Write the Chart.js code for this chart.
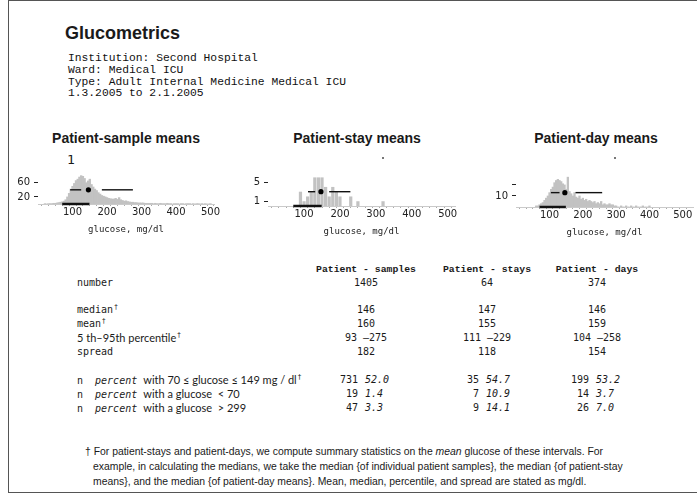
<!DOCTYPE html>
<html>
<head>
<meta charset="utf-8">
<script src="https://cdn.jsdelivr.net/npm/chart.js@4.4.0/dist/chart.umd.min.js"></script>
<style>
body { margin: 0; background: #fff; width: 697px; height: 495px; overflow: hidden; position: relative; }
.frame { position: absolute; left: 8px; top: 0; width: 700px; height: 491px; border: 1px solid #555; border-right: none; }
.t { position: absolute; white-space: nowrap; line-height: 12px; color: #1a1a1a; }
.head { font-family: "Liberation Sans", Arial, sans-serif; font-weight: bold; }
.mono { font-family: "Liberation Mono", monospace; font-size: 11.3px; color: #111; }
.lab { font-family: "DejaVu Sans Mono", monospace; font-size: 10px; color: #1a1a1a; }
.prop { font-family: Lato, sans-serif; font-size: 11px; }
.colh { font-family: "Liberation Mono", monospace; font-size: 9.8px; font-weight: bold; }
.num { font-family: "DejaVu Sans Mono", monospace; font-size: 10px; }
.it { font-style: italic; }
.foot { font-family: "Liberation Sans", Arial, sans-serif; font-size: 10.4px; line-height: 15px; }
.dag { font-family: "DejaVu Sans", sans-serif; font-size: 7px; }
.wrap { position: absolute; }
</style>
</head>
<body>
<div class="frame"></div>
<div id="page"></div>
<div class="wrap" style="left:0px;top:145px;width:225px;height:90px"><canvas id="c1"></canvas></div>
<div class="wrap" style="left:230px;top:147px;width:240px;height:90px"><canvas id="c2"></canvas></div>
<div class="wrap" style="left:470px;top:148px;width:227px;height:90px"><canvas id="c3"></canvas></div>
<script>
// header text
var reportTitle = "Glucometrics";
var infoLines = [
  "Institution: Second Hospital",
  "Ward: Medical ICU",
  "Type: Adult Internal Medicine Medical ICU",
  "1.3.2005 to 2.1.2005"
];
var panelTitles = ["Patient-sample means", "Patient-stay means", "Patient-day means"];
var axisTitle = "glucose, mg/dl";

// histogram of patient-sample means, 5 mg/dl bins starting at 20
var sampleBinStart = 20, sampleBinWidth = 5;
var sampleCounts = [1,0,1,1,1,2,2,3,4,5,
  6,8,12,20,30,42,
  50,58,66,70,76,80,
  78,72,60,65,70,55,
  48,42,38,32,28,24,
  22,20,18,16,15,14,
  14,16,13,18,12,10,
  8,9,7,6,5,5,
  4,4,3,3,3,3,2,2,2,2,
  2,1,2,1,1,2,1,1,1,2,1,1,0,1,1,1,0,1,1,0,1,1,1,0,1,0,1,1,0,1,0,1,0,0,1];

// histogram of patient-stay means, 10 mg/dl bins starting at 80
var stayBinStart = 80, stayBinWidth = 10;
var stayCounts = [0,3,1,2,3,6,6,6,4,2,4,3,2,0,0,2,0,1,0,0,0,0,0,0,1];

// histogram of patient-day means, 5 mg/dl bins starting at 60
var dayBinStart = 60, dayBinWidth = 5;
var dayCounts = [1,1,2,3,4,6,8,10,
  13,16,18,22,24,25,
  24,23,21,20,16,27,
  14,12,10,13,9,8,
  10,7,8,6,7,5,
  6,5,4,5,3,4,
  3,5,2,3,2,2,
  3,2,2,1,
  1,0,0,1,0,0,1,0,0,1,0,0,1,0,0,0,1,0,0,0,1];

// 5th, 25th, median, 75th, 95th percentile
var samplePct = [93, 125, 146, 185, 275];
var stayPct = [111, 131, 147, 170, 229];
var dayPct = [104, 130, 146, 178, 258];
var targetRange = [70, 149];

var xMinorTicks = [20,40,60,80,100,120,140,160,180,200,220,240,260,280,300,320,340,360,380,400,420,440,460,480,500];
var xTickLabels = [100, 200, 300, 400, 500];

var sampleYTicks = [20, 40, 60, 80], sampleYLabels = ["20", "", "60", ""];
var stayYTicks = [1, 5], stayYLabels = ["1", "5"];
var dayYTicks = [10, 20], dayYLabels = ["10", ""];

// table
var columnHeads = ["Patient - samples", "Patient - stays", "Patient - days"];
var rowLabels = ["number", "median", "mean", "5 th\u201395th percentile", "spread"];
var numbers = [1405, 64, 374];
var medians = [146, 147, 146];
var means = [160, 155, 159];
var pctRange = ["93 \u2013275", "111 \u2013229", "104 \u2013258"];
var spreads = [182, 118, 154];
var nInRange = [731, 35, 199], pInRange = ["52.0", "54.7", "53.2"];
var nLow = [19, 7, 14], pLow = ["1.4", "10.9", "3.7"];
var nHigh = [47, 9, 26], pHigh = ["3.3", "14.1", "7.0"];

var footLines = [
  "<span style='margin-left:-8px'>\u2020</span> For patient-stays and patient-days, we compute summary statistics on the <i>mean</i> glucose of these intervals. For",
  "example, in calculating the medians, we take the median {of individual patient samples}, the median {of patient-stay",
  "means}, and the median {of patient-day means}. Mean, median, percentile, and spread are stated as mg/dl."
];

var page = document.getElementById("page");
function put(text, x, y, cls, align) {
  var d = document.createElement("div");
  d.className = "t " + cls;
  d.innerHTML = text;
  d.style.top = (y - 6) + "px";
  if (align === "center") { d.style.left = x + "px"; d.style.transform = "translateX(-50%)"; }
  else if (align === "right") { d.style.right = (697 - x) + "px"; }
  else { d.style.left = x + "px"; }
  page.appendChild(d);
  return d;
}
// label followed by a raised dagger
function putDag(text, x, y, cls) {
  var d = put(text, x, y, cls, "left");
  put("\u2020", x + d.getBoundingClientRect().width + 1, y - 3, "dag", "left");
}

put(reportTitle, 65, 33, "head", "left").style.fontSize = "18px";
infoLines.forEach(function (s, i) { put(s, 68, 58 + i * 11.8, "mono", "left"); });
var titleX = [126, 357, 596];
panelTitles.forEach(function (s, i) { put(s, titleX[i], 138, "head", "center").style.fontSize = "14px"; });
put("1", 67, 160, "lab", "left").style.fontSize = "13px";

// table
var colX = [366, 487, 597];
var rowY = { head: 270, number: 283, median: 310, mean: 324, pct: 338, spread: 352, r1: 380, r2: 394, r3: 408 };
var labelX = 77;
put(rowLabels[0], labelX, rowY.number, "num", "left");
putDag(rowLabels[1], labelX, rowY.median, "num");
putDag(rowLabels[2], labelX, rowY.mean, "num");
putDag("<span class='prop'>" + rowLabels[3] + "</span>", labelX, rowY.pct, "num");
put(rowLabels[4], labelX, rowY.spread, "num", "left");
putDag("n&nbsp; <span class='it'>percent</span> <span class='prop'>with 70 \u2264 glucose \u2264 149 mg / dl</span>", labelX, rowY.r1, "num");
put("n&nbsp; <span class='it'>percent</span> <span class='prop'>with a glucose &nbsp;&lt; 70</span>", labelX, rowY.r2, "num", "left");
put("n&nbsp; <span class='it'>percent</span> <span class='prop'>with a glucose &nbsp;&gt; 299</span>", labelX, rowY.r3, "num", "left");

for (var c = 0; c < 3; c++) {
  put(columnHeads[c], colX[c], rowY.head, "colh", "center");
  put(String(numbers[c]), colX[c], rowY.number, "num", "center");
  put(String(medians[c]), colX[c], rowY.median, "num", "center");
  put(String(means[c]), colX[c], rowY.mean, "num", "center");
  put(pctRange[c], colX[c], rowY.pct, "num", "center");
  put(String(spreads[c]), colX[c], rowY.spread, "num", "center");
  [[nInRange, pInRange, rowY.r1], [nLow, pLow, rowY.r2], [nHigh, pHigh, rowY.r3]].forEach(function (r) {
    put(String(r[0][c]), colX[c] - 8, r[2], "num", "right");
    put(r[1][c], colX[c] - 1, r[2], "num it", "left");
  });
}

footLines.forEach(function (s, i) {
  var d = put(s, 93, 452 + i * 15, "foot", "left");
  d.style.top = (452 + i * 15 - 8) + "px";
});

// stray marks at top of the stay and day panels
[[382, 157], [614, 157]].forEach(function (p) {
  var d = document.createElement("div");
  d.style.cssText = "position:absolute;width:2px;height:2px;background:#777;left:" + p[0] + "px;top:" + p[1] + "px";
  page.appendChild(d);
});

function makePanel(id, binStart, binWidth, counts, yMax, yTicks, yLabels, pct, pctY, xMax, yWidth, padTop, padRight, barPct) {
  var bars = counts.map(function (c, i) { return { x: binStart + i * binWidth, y: c }; });
  var seg = { type: "line", borderColor: "#111", borderWidth: 1.4, pointRadius: 0, order: 1, clip: false };
  new Chart(document.getElementById(id), {
    type: "bar",
    data: {
      datasets: [
        Object.assign({ data: [{ x: pct[0], y: pctY }, { x: pct[1], y: pctY }] }, seg),
        Object.assign({ data: [{ x: pct[3], y: pctY }, { x: pct[4], y: pctY }] }, seg),
        { type: "scatter", data: [{ x: pct[2], y: pctY }], pointRadius: 2.6, backgroundColor: "#000", borderWidth: 0, order: 1 },
        { type: "line", data: [{ x: targetRange[0], y: 0 }, { x: targetRange[1], y: 0 }], borderColor: "#111", borderWidth: 2.5, pointRadius: 0, order: 0, clip: false },
        { type: "bar", data: bars, backgroundColor: "#c2c2c2", borderWidth: 0, barPercentage: barPct, categoryPercentage: 1, order: 5 }
      ]
    },
    options: {
      animation: false,
      responsive: true,
      maintainAspectRatio: false,
      layout: { padding: { top: padTop, right: padRight, left: 0, bottom: 0 } },
      plugins: { legend: { display: false }, tooltip: { enabled: false } },
      scales: {
        x: {
          type: "linear", min: 10, max: xMax,
          afterBuildTicks: function (s) { s.ticks = xMinorTicks.filter(function (v) { return v <= xMax; }).map(function (v) { return { value: v }; }); },
          afterFit: function (s) { s.height = 31; },
          ticks: {
            autoSkip: false, maxRotation: 0, padding: 0, color: "#222",
            font: { family: "DejaVu Sans", size: 10 },
            callback: function (v) { return xTickLabels.indexOf(v) >= 0 ? String(v) : ""; }
          },
          grid: { drawOnChartArea: false, tickLength: 2, color: "#aaa" },
          border: { color: "#cacaca" },
          title: { display: true, text: axisTitle, color: "#222", padding: { top: 2, bottom: 0 }, font: { family: "DejaVu Sans Mono", size: 9 } }
        },
        y: {
          min: 0, max: yMax,
          afterBuildTicks: function (s) { s.ticks = yTicks.map(function (v) { return { value: v }; }); },
          afterFit: function (s) { s.width = yWidth; },
          ticks: {
            padding: 4, color: "#222", font: { family: "DejaVu Sans", size: 10 },
            callback: function (v) { return yLabels[yTicks.indexOf(v)]; }
          },
          grid: { drawOnChartArea: false, tickLength: 4, color: "#222" },
          border: { display: false }
        }
      }
    }
  });
}

makePanel("c1", sampleBinStart, sampleBinWidth, sampleCounts, 110, sampleYTicks, sampleYLabels, samplePct, 40, 500, 38, 20, 11, 1);
makePanel("c2", stayBinStart, stayBinWidth, stayCounts, 8.6, stayYTicks, stayYLabels, stayPct, 3, 510, 38, 18, 15, 0.9);
makePanel("c3", dayBinStart, dayBinWidth, dayCounts, 38, dayYTicks, dayYLabels, dayPct, 13, 520, 46, 17, 0, 1);
</script>
</body>
</html>
